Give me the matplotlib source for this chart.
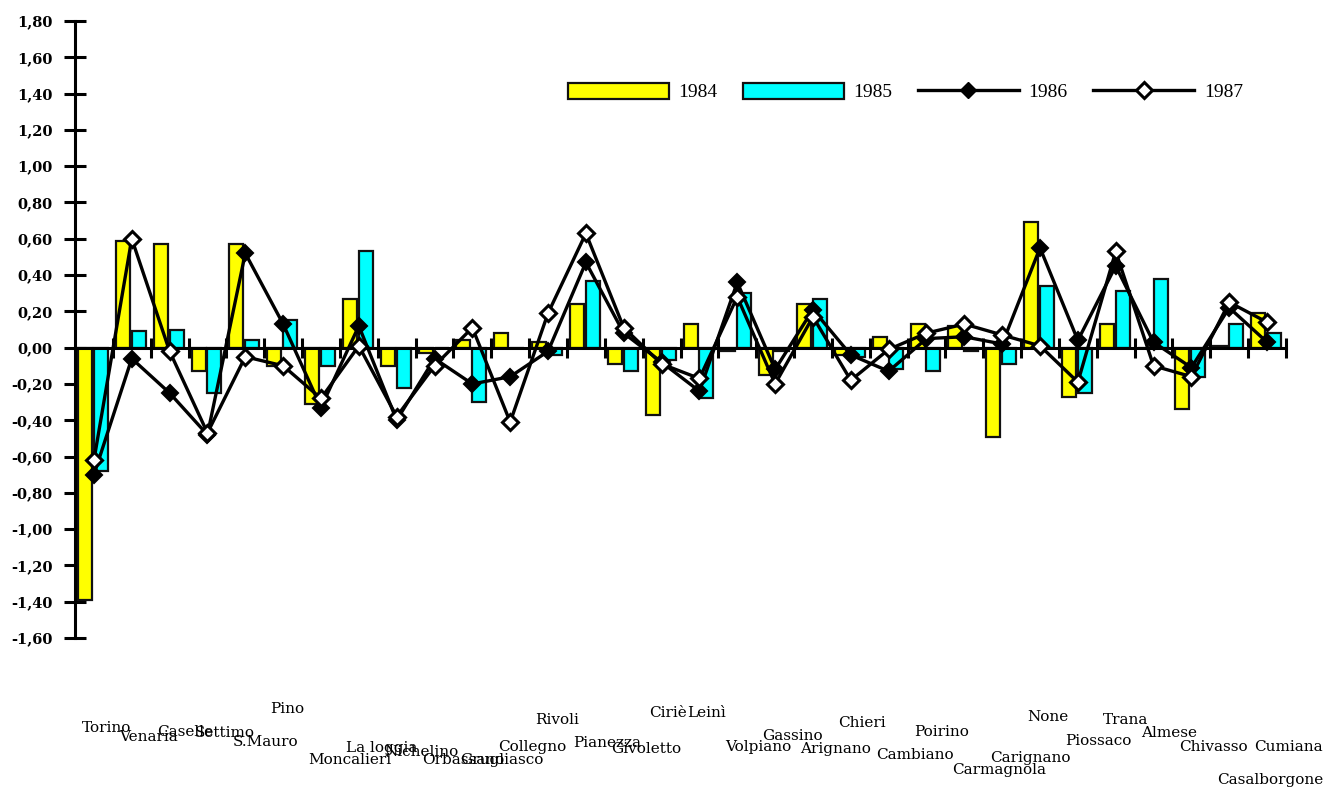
import numpy as np
import matplotlib.pyplot as plt
from matplotlib.ticker import FixedLocator, FuncFormatter
from matplotlib.transforms import blended_transform_factory
from matplotlib.patches import Patch
from matplotlib.lines import Line2D

comuni = ['Torino', 'Venaria', 'Caselle', 'Settimo', 'S.Mauro', 'Pino', 'Moncalieri',
          'La loggia', 'Nichelino', 'Orbassano', 'Grugliasco', 'Collegno', 'Rivoli',
          'Pianezza', 'Givoletto', 'Ciriè', 'Leinì', 'Volpiano', 'Gassino', 'Arignano',
          'Chieri', 'Cambiano', 'Poirino', 'Carmagnola', 'Carignano', 'None', 'Piossaco',
          'Trana', 'Almese', 'Chivasso', 'Casalborgone', 'Cumiana']

v1984 = [-1.39, 0.59, 0.57, -0.13, 0.57, -0.10, -0.31, 0.27, -0.10, -0.03, 0.04, 0.08,
         0.03, 0.24, -0.09, -0.37, 0.13, -0.02, -0.15, 0.24, -0.04, 0.06, 0.13, 0.12,
         -0.49, 0.69, -0.27, 0.13, 0.00, -0.34, 0.01, 0.19]
v1985 = [-0.68, 0.09, 0.10, -0.25, 0.04, 0.15, -0.10, 0.53, -0.22, 0.00, -0.30, 0.00,
         -0.04, 0.37, -0.13, -0.07, -0.28, 0.30, -0.02, 0.27, -0.05, -0.12, -0.13, -0.02,
         -0.09, 0.34, -0.25, 0.31, 0.38, -0.16, 0.13, 0.08]
v1986 = [-0.70, -0.06, -0.25, -0.48, 0.52, 0.13, -0.33, 0.12, -0.40, -0.06, -0.20, -0.16,
         -0.02, 0.47, 0.08, -0.08, -0.24, 0.36, -0.12, 0.21, -0.04, -0.13, 0.05, 0.06,
         0.02, 0.55, 0.04, 0.45, 0.03, -0.11, 0.22, 0.03]
v1987 = [-0.62, 0.60, -0.02, -0.47, -0.05, -0.10, -0.28, 0.01, -0.38, -0.10, 0.11, -0.41,
         0.19, 0.63, 0.11, -0.09, -0.17, 0.28, -0.20, 0.17, -0.18, -0.01, 0.08, 0.13,
         0.07, 0.01, -0.19, 0.53, -0.10, -0.16, 0.25, 0.14]

# vertical position (pixels from top) of each town name under the chart
label_y = [728, 737, 732, 733, 742, 709, 760, 748, 752, 760, 760, 747, 720, 743, 749, 713,
           713, 747, 736, 749, 723, 755, 732, 770, 758, 717, 741, 720, 733, 747, 780, 747]

W, H = 1330, 793
fig = plt.figure(figsize=(W / 100, H / 100), dpi=100)
ax = fig.add_axes([75 / W, 1 - 638 / H, (1286 - 75) / W, (638 - 21) / H])

x = np.arange(len(comuni))
bw = 0.37
ax.bar(x - 0.235, v1984, bw, color='#FFFF00', edgecolor='#111111', linewidth=1.6, zorder=2)
ax.bar(x + 0.185, v1985, bw, color='#00FFFF', edgecolor='#111111', linewidth=1.6, zorder=2)
ax.plot(x, v1986, color='black', lw=2.4, marker='D', ms=8.5, mfc='black', mec='black',
        mew=1.5, zorder=4)
ax.plot(x, v1987, color='black', lw=2.4, marker='D', ms=8.5, mfc='white', mec='black',
        mew=2.2, zorder=5)

ax.set_xlim(-0.5, len(comuni) - 0.5)
ax.set_ylim(-1.6, 1.8)

for s in ['top', 'right']:
    ax.spines[s].set_visible(False)
ax.spines['bottom'].set_position(('data', 0))
ax.spines['left'].set_linewidth(2.2)
ax.spines['bottom'].set_linewidth(2.2)
ax.spines['left'].set_zorder(6)
ax.spines['bottom'].set_zorder(3)


def fmt_val(v, pos):
    v = round(v, 2) + 0.0
    s = f'{abs(v):.2f}'.replace('.', ',')
    return '-' + s if v < 0 else s


ax.yaxis.set_major_locator(FixedLocator(np.round(np.arange(-1.6, 1.81, 0.2), 2)))
ax.yaxis.set_major_formatter(FuncFormatter(fmt_val))
ax.tick_params(axis='y', direction='inout', length=16, width=2.2, pad=8)
for t in ax.get_yticklabels():
    t.set_fontfamily('DejaVu Serif')
    t.set_fontweight('bold')
    t.set_fontsize(10.5)

ax.xaxis.set_major_locator(FixedLocator(np.arange(0.5, len(comuni), 1.0)))
ax.xaxis.set_major_formatter(FuncFormatter(lambda v, p: ''))
ax.tick_params(axis='x', direction='inout', length=14, width=2.2)

trans = blended_transform_factory(ax.transData, fig.transFigure)
for i, (name, py) in enumerate(zip(comuni, label_y)):
    ax.text(i - 0.5 + 0.17, 1 - py / H, name, transform=trans, ha='left', va='center',
            fontsize=11, family='DejaVu Serif', clip_on=False)

handles = [
    Patch(facecolor='#FFFF00', edgecolor='#111111', linewidth=1.6),
    Patch(facecolor='#00FFFF', edgecolor='#111111', linewidth=1.6),
    Line2D([], [], color='black', lw=2.4, marker='D', ms=8.5, mfc='black', mec='black'),
    Line2D([], [], color='black', lw=2.4, marker='D', ms=8.5, mfc='white', mec='black', mew=2.2),
]
fig.legend(handles, ['1984', '1985', '1986', '1987'], loc='center left',
           bbox_to_anchor=(550 / W, 1 - 92 / H), ncol=4, frameon=False,
           prop={'family': 'Liberation Serif', 'size': 14},
           handlelength=5.2, handleheight=0.9, handletextpad=0.5, columnspacing=1.3)

fig.savefig('out.png', dpi=100)
